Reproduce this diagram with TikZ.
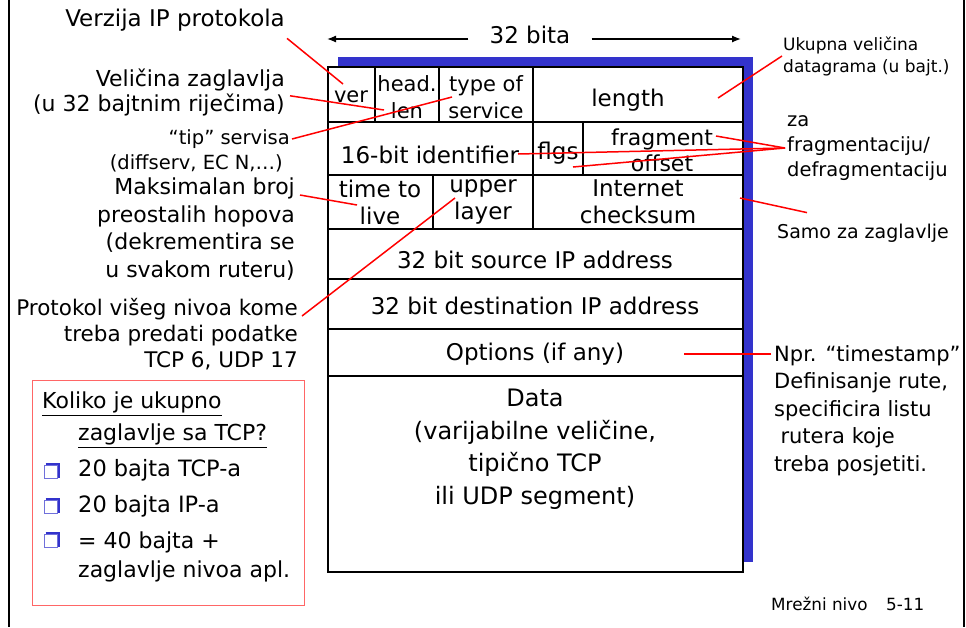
\documentclass[tikz,border=0pt]{standalone}
\usepackage{fontspec}
\setmainfont{DejaVu Sans}
\usetikzlibrary{arrows.meta}
\definecolor{shadowblue}{RGB}{51,51,204}

\begin{document}
\begin{tikzpicture}[x=1pt, y=-1pt,
  lbl/.style={inner sep=0pt, font=\fontsize{22}{25}\selectfont},
  note/.style={inner sep=0pt, font=\fontsize{17}{22}\selectfont},
  cell/.style={inner sep=0pt, align=center, font=\fontsize{23}{27}\selectfont},
  pointer/.style={red, line width=1.5pt},
  grid/.style={black, line width=1.6pt},
  bullet/.style={draw=shadowblue!70, line width=1pt, minimum size=13pt, inner sep=0pt}]
\useasboundingbox (0,0) rectangle (966,627);

% frame
\draw[line width=1.5pt] (9,0) -- (9,627);
\draw[line width=1.5pt] (964,0) -- (964,627);

% datagram
\fill[shadowblue] (338,57) rectangle (753,562);
\fill[white] (328,67) rectangle (743,572);
\draw[grid] (328,67) rectangle (743,572);
\foreach \y in {122,175,229,279,329,376}
  \draw[grid] (328,\y) -- (743,\y);
\foreach \x in {375,439,533}
  \draw[grid] (\x,67) -- (\x,122);
\foreach \x in {533,583}
  \draw[grid] (\x,122) -- (\x,175);
\foreach \x in {433,533}
  \draw[grid] (\x,175) -- (\x,229);

% width
\node[lbl, inner xsep=21pt, font=\fontsize{23}{27}\selectfont] (bita) at (530,35) {32 bita};
\coordinate (bita-l) at (327,39);
\coordinate (bita-r) at (741,39);
\draw[line width=1.3pt, -{Latex[length=9pt,width=7pt]}] (bita.west |- bita-l) -- (bita-l);
\draw[line width=1.3pt, -{Latex[length=9pt,width=7pt]}] (bita.east |- bita-r) -- (bita-r);

% fields
\node[cell, font=\fontsize{21}{27}\selectfont] (ver) at (351,97) {ver};
\node[cell, font=\fontsize{21}{27}\selectfont] (hlen) at (407,97) {head.\\len};
\node[cell, font=\fontsize{21}{27}\selectfont] (tos) at (486,97) {type of\\service};
\node[cell] (len) at (628,100) {length};
\node[cell] (ident) at (430,155) {16-bit identifier};
\node[cell] (flgs) at (558,153) {flgs};
\node[cell, font=\fontsize{22}{26}\selectfont] (frag) at (662,150) {fragment\\offset};
\node[cell] (ttl) at (380,202) {time to\\live};
\node[cell] (upper) at (483,202) {upper\\layer};
\node[cell] (csum) at (638,202) {Internet\\checksum};
\node[cell] (src) at (535,260) {32 bit source IP address};
\node[cell] (dst) at (535,306) {32 bit destination IP address};
\node[cell] (opts) at (535,354) {Options (if any)};
\node[cell, anchor=north, font=\fontsize{24}{32.5}\selectfont] (data) at (535,389)
  {Data\\(varijabilne veličine,\\tipično TCP\\ili UDP segment)};

% left notes
\node[lbl, anchor=east, font=\fontsize{23}{27}\selectfont] (verzija) at (285,20) {Verzija IP protokola};
\node[lbl, anchor=north east, align=right] (velicina) at (285,69)
  {Veličina zaglavlja\\(u 32 bajtnim riječima)};
\node[note, anchor=east, font=\fontsize{19.5}{22}\selectfont] (tip) at (290,139) {“tip” servisa};
\node[note, anchor=east, font=\fontsize{19.5}{22}\selectfont] (diffserv) at (283,163) {(diffserv, EC N,…)};
\node[lbl, anchor=north east, align=right, font=\fontsize{22}{27.5}\selectfont] (hopovi) at (295,178)
  {Maksimalan broj\\preostalih hopova\\(dekrementira se\hspace*{0.4em}\\u svakom ruteru)};
\node[lbl, anchor=north east, align=right, font=\fontsize{21.5}{26}\selectfont] (protokol) at (298,298)
  {Protokol višeg nivoa kome\\treba predati podatke\\TCP 6, UDP 17};

% right notes
\node[note, anchor=west, align=left] (ukupna) at (783,56)
  {Ukupna veličina\\datagrama (u bajt.)};
\node[lbl, anchor=west, align=left, font=\fontsize{19.5}{25}\selectfont] (zafrag) at (787,148)
  {za\\fragmentaciju/\\defragmentaciju};
\node[lbl, anchor=west, font=\fontsize{19}{22}\selectfont] (samo) at (777,233) {Samo za zaglavlje};
\node[lbl, anchor=north west, align=left, font=\fontsize{21}{27.5}\selectfont] (npr) at (774,345)
  {Npr. “timestamp”\\Definisanje rute,\\specificira listu\\\hspace*{0.3em}rutera koje\\treba posjetiti.};
\node[note, anchor=west, font=\fontsize{16.8}{18}\selectfont] (slide) at (771,604) {Mrežni nivo\hspace{1.1em}5-11};

% pointers
\coordinate (p-ver) at (343,84);
\coordinate (p-hlen) at (384,110);
\coordinate (p-tos) at (452,97);
\coordinate (p-ttl) at (357,205);
\coordinate (p-upper) at (455,198);
\coordinate (p-len) at (718,98);
\coordinate (p-frag) at (716,136);
\coordinate (p-ident) at (518,154);
\coordinate (p-off) at (573,167);
\coordinate (p-csum) at (740,198);
\coordinate (p-opts) at (684,354);
\draw[pointer] ([shift={(2,7)}]verzija.south east) -- (p-ver);
\draw[pointer] ([shift={(5,3)}]velicina.east) -- (p-hlen);
\draw[pointer] ([xshift=2]tip.east) -- (p-tos);
\draw[pointer] ([shift={(5,17)}]hopovi.north east) -- (p-ttl);
\draw[pointer] ([shift={(4,18)}]protokol.north east) -- (p-upper);
\draw[pointer] ([xshift=-1]ukupna.west) -- (p-len);
\foreach \p in {p-frag,p-ident,p-off}
  \draw[pointer] ([xshift=-2]zafrag.west) -- (\p);
\draw[pointer] ([shift={(30,-11)}]samo.north west) -- (p-csum);
\draw[pointer] ([shift={(-3,9)}]npr.north west) -- (p-opts);

% question box
\draw[red!60, line width=0.9pt] (32,380) rectangle (304,605);
\node[lbl, anchor=north west, align=left, font=\fontsize{22}{32}\selectfont] (koliko) at (42,392)
  {\underline{Koliko je ukupno}\\\hspace*{36pt}\underline{zaglavlje sa TCP?}};
\node[bullet] (b1) at (51,472) {};
\node[bullet] (b2) at (51,507) {};
\node[bullet] (b3) at (51,541) {};
\foreach \b in {b1,b2,b3}
  \draw[shadowblue, line width=2pt] ([shift={(1.5,-1)}]\b.north west) -- ([shift={(1,-1)}]\b.north east) -- ([shift={(1,-1.5)}]\b.south east);
\node[lbl, anchor=west, font=\fontsize{22.5}{27}\selectfont] (tcp20) at (78,470) {20 bajta TCP-a};
\node[lbl, anchor=west, font=\fontsize{22.5}{27}\selectfont] (ip20) at (78,506) {20 bajta IP-a};
\node[lbl, anchor=north west, align=left, font=\fontsize{22}{29}\selectfont] (ukupno) at (78,532)
  {= 40 bajta +\\zaglavlje nivoa apl.};
\end{tikzpicture}
\end{document}
